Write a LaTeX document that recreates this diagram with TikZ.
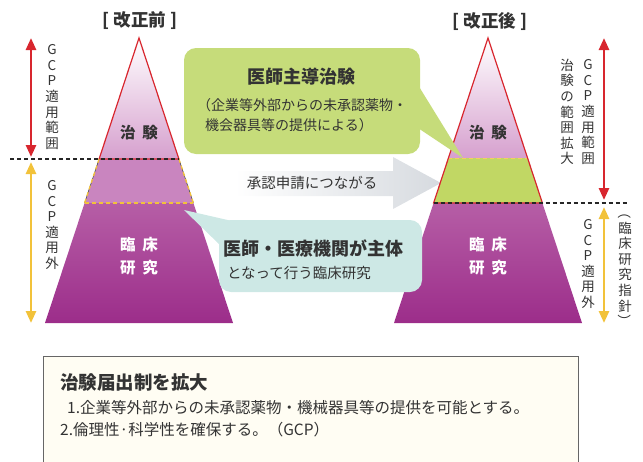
\documentclass[tikz,border=0pt]{standalone}
\usepackage{fontspec}
\setmainfont{Noto Sans CJK JP}
\usetikzlibrary{arrows.meta}
\definecolor{myred}{HTML}{D8262E}
\definecolor{myyel}{HTML}{F2C23A}
\definecolor{pyrlight}{HTML}{D6A0CE}
\definecolor{pyrmid}{HTML}{C985BF}
\definecolor{pyrdarktop}{HTML}{B65EA6}
\definecolor{pyrdark}{HTML}{9C2D8A}
\definecolor{bandgreen}{HTML}{C1D764}
\definecolor{boxgreen}{HTML}{C6DC7A}
\definecolor{boxcyan}{HTML}{CDE8E5}
\definecolor{arrowgray}{HTML}{D6DADF}
\definecolor{txt}{HTML}{333333}
\definecolor{notefill}{HTML}{FFFDF3}
\begin{document}
\begin{tikzpicture}[x=1pt,y=-1pt,
  vtext/.style={align=center,inner sep=0pt,font=\fontsize{13.5}{15.6}\selectfont,text=txt},
  dblred/.style={draw=myred,line width=2.6pt,{Triangle[length=12pt,width=10pt]}-{Triangle[length=12pt,width=10pt]}},
  dblyel/.style={draw=myyel,line width=2.6pt,{Triangle[length=12pt,width=10pt]}-{Triangle[length=12pt,width=10pt]}},
  blkdash/.style={draw=black!85,line width=1.1pt,dash pattern=on 4pt off 3pt},
  yeldash/.style={draw=myyel,line width=1.3pt,dash pattern=on 4pt off 3pt},
  pyrlabel/.style={font=\fontsize{15.5}{18}\selectfont\bfseries,inner sep=0pt},
  heading/.style={font=\fontsize{17.5}{20}\selectfont\bfseries,text=txt,inner sep=0pt},
  callout/.style={rounded corners=12pt},
  plain/.style={inner sep=0pt,text=txt}
]
\useasboundingbox (0,0) rectangle (643,461);

% ---------- coordinates ----------
\coordinate (LA) at (139,38);
\coordinate (L1l) at (99.1,159);  \coordinate (L1r) at (178.9,159);
\coordinate (L2l) at (84.6,203);  \coordinate (L2r) at (193.4,203);
\coordinate (Lbl) at (45,323);    \coordinate (Lbr) at (233,323);
\coordinate (RA) at (488,38);
\coordinate (R1l) at (448.4,158); \coordinate (R1r) at (527.6,158);
\coordinate (R2l) at (433.6,203); \coordinate (R2r) at (542.4,203);
\coordinate (Rbl) at (394,323);   \coordinate (Rbr) at (582,323);

% ---------- gray arrow ----------
\shade[left color=white,right color=arrowgray]
  (235,171) -- (393,171) -- (393,157) -- (441,183) -- (393,209) -- (393,196) -- (235,196) -- cycle;
\node[plain,font=\fontsize{14.5}{17}\selectfont] (apply) at (312,183) {承認申請につながる};

% ---------- left pyramid ----------
\shade[top color=white,bottom color=pyrlight] (LA) -- (L1r) -- (L1l) -- cycle;
\fill[pyrmid] (L1l) -- (L1r) -- (L2r) -- (L2l) -- cycle;
\shade[top color=pyrdarktop,bottom color=pyrdark] (L2l) -- (L2r) -- (Lbr) -- (Lbl) -- cycle;
\draw[myred,line width=1.2pt,line join=miter] (L1l) -- (LA) -- (L1r) -- cycle;
\draw[black!70,line width=0.6pt] (L1l) -- (L2l) (L1r) -- (L2r);
\draw[yeldash] (L1l) -- (L2l) (L1r) -- (L2r);
\draw[yeldash] (L2l) -- (L2r);
\coordinate (LdashS) at (10,159);
\draw[blkdash] (LdashS) -- (L1r);

% ---------- right pyramid ----------
\shade[top color=white,bottom color=pyrlight] (RA) -- (R1r) -- (R1l) -- cycle;
\fill[bandgreen] (R1l) -- (R1r) -- (R2r) -- (R2l) -- cycle;
\shade[top color=pyrdarktop,bottom color=pyrdark] (R2l) -- (R2r) -- (Rbr) -- (Rbl) -- cycle;
\draw[myyel!80,line width=0.8pt,dash pattern=on 4pt off 3pt] (R1l) -- (R1r);
\draw[myred,line width=1.2pt,line join=miter] (R2l) -- (RA) -- (R2r) -- cycle;
\coordinate (RdashE) at (628,203);
\draw[blkdash] (R2l) -- (RdashE);

% ---------- headings ----------
\node[heading] (hbefore) at (140,21) {[ 改正前 ]};
\node[heading] (hafter) at (490,21) {[ 改正後 ]};

% ---------- pyramid labels ----------
\node[pyrlabel,text=txt] (lchiken) at (139,133) {治\hspace{0.45em}験};
\node[pyrlabel,text=white] (lrin) at (139,245) {臨\hspace{0.45em}床};
\node[pyrlabel,text=white] (lken) at (139,268) {研\hspace{0.45em}究};
\node[pyrlabel,text=txt] (rchiken) at (488,133) {治\hspace{0.45em}験};
\node[pyrlabel,text=white] (rrin) at (488,245) {臨\hspace{0.45em}床};
\node[pyrlabel,text=white] (rken) at (488,268) {研\hspace{0.45em}究};

% ---------- side arrows ----------
\coordinate (la1) at (31,38);  \coordinate (la2) at (31,157);
\coordinate (la3) at (31,162); \coordinate (la4) at (31,323);
\draw[dblred] (la1) -- (la2);
\draw[dblyel] (la3) -- (la4);
\coordinate (ra1) at (604,38);  \coordinate (ra2) at (604,200);
\coordinate (ra3) at (604,207); \coordinate (ra4) at (604,323);
\draw[dblred] (ra1) -- (ra2);
\draw[dblyel] (ra3) -- (ra4);

% ---------- vertical texts ----------
\node[vtext] (lgcpin) at (52,97) {G\\C\\P\\適\\用\\範\\囲};
\node[vtext] (lgcpout) at (52,225) {G\\C\\P\\適\\用\\外};
\node[vtext] (rgcpin) at (588,112) {G\\C\\P\\適\\用\\範\\囲};
\node[vtext] (rexpand) at (567,112) {治\\験\\の\\範\\囲\\拡\\大};
\node[vtext] (rgcpout) at (588,264) {G\\C\\P\\適\\用\\外};
\node[vtext] (rguide) at (625,267) {\rotatebox[origin=c]{-90}{（}\\臨\\床\\研\\究\\指\\針\\\rotatebox[origin=c]{-90}{）}};

% ---------- green callout ----------
\fill[boxgreen] (418,85) -- (463,158) -- (418,128) -- cycle;
\fill[boxgreen,callout] (184,48) rectangle (420,154);
\node[plain,font=\fontsize{18}{21}\selectfont\bfseries] (ishi) at (301,77) {医師主導治験};
\node[plain,anchor=west,font=\fontsize{14}{17}\selectfont] (kigyo) at (197,105) {（企業等外部からの未承認薬物・};
\node[plain,anchor=west,font=\fontsize{14}{17}\selectfont] (kikai) at (205,125) {機会器具等の提供による）};

% ---------- cyan callout ----------
\fill[boxcyan] (184,210) -- (232,221) -- (221,246) -- cycle;
\fill[boxcyan,callout] (219,220) rectangle (422,292);
\node[plain,font=\fontsize{18}{21}\selectfont\bfseries] (shutai) at (313,248) {医師・医療機関が主体};
\node[plain,font=\fontsize{14.5}{17}\selectfont] (rinsho) at (299,273) {となって行う臨床研究};

% ---------- bottom note ----------
\draw[draw=black!60,fill=notefill,line width=0.6pt] (43,356) rectangle (578,475);
\node[plain,anchor=west,font=\fontsize{18.5}{21}\selectfont\bfseries] (ntitle) at (60,382) {治験届出制を拡大};
\node[plain,anchor=west,font=\fontsize{15.5}{18}\selectfont] (n1) at (67,408) {1.企業等外部からの未承認薬物・機械器具等の提供を可能とする。};
\node[plain,anchor=west,font=\fontsize{15.5}{18}\selectfont] (n2) at (60,430) {2.倫理性·科学性を確保する。（GCP）};
\end{tikzpicture}
\end{document}
